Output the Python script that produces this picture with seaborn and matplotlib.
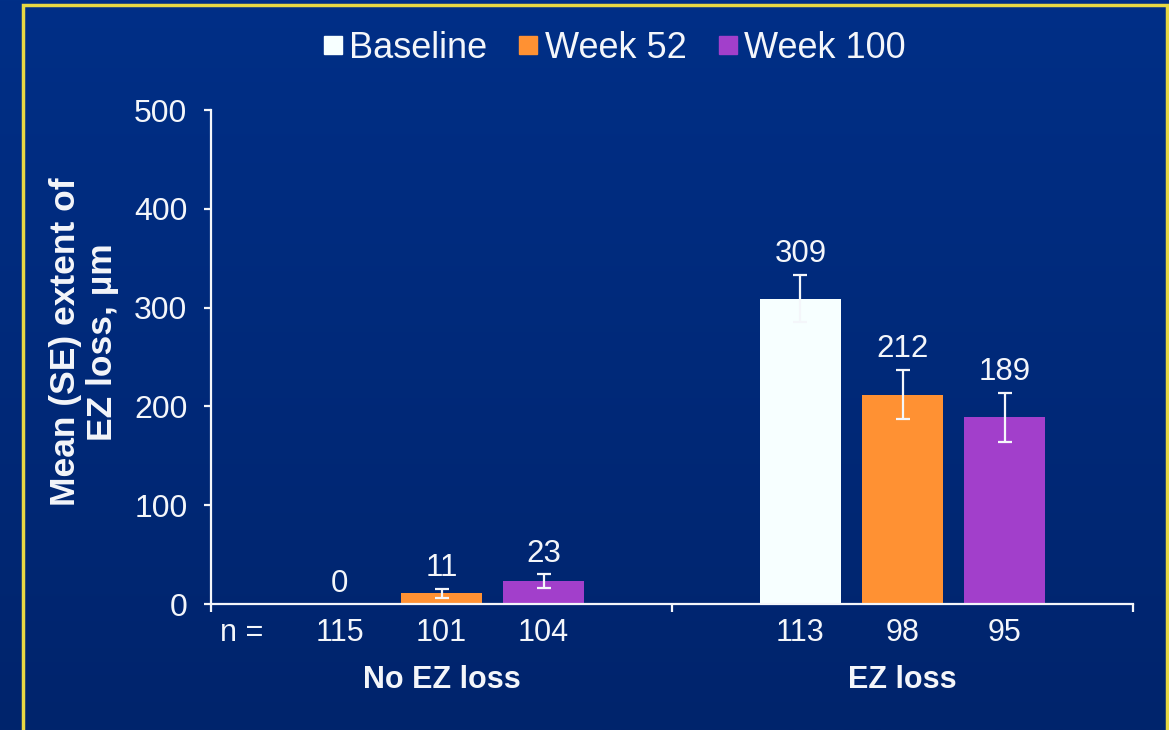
import numpy as np
import pandas as pd
import matplotlib
matplotlib.use("Agg")
import matplotlib.pyplot as plt
from matplotlib.colors import LinearSegmentedColormap
from matplotlib.lines import Line2D
from matplotlib.patches import Rectangle
import seaborn as sns

# data
groups = ["No EZ loss", "EZ loss"]
visits = ["Baseline", "Week 52", "Week 100"]
means = {"Baseline": [0, 309], "Week 52": [11, 212], "Week 100": [23, 189]}
ses = {"Baseline": [0, 24], "Week 52": [4.5, 25], "Week 100": [7, 25]}
ns = {"Baseline": [115, 113], "Week 52": [101, 98], "Week 100": [104, 95]}
colors = {"Baseline": "#F7FFFF", "Week 52": "#FF9133", "Week 100": "#A23FCB"}

rows = []
for v in visits:
    for i, g in enumerate(groups):
        rows.append({"group": g, "visit": v, "mean": means[v][i], "se": ses[v][i], "n": ns[v][i]})
df = pd.DataFrame(rows)

sns.set_theme(style="ticks")
plt.rcParams["font.family"] = ["Liberation Sans", "DejaVu Sans"]
WHITE = "#F4F6FA"

fig = plt.figure(figsize=(11.69, 7.30), dpi=100)

# background gradient
bg = fig.add_axes([0, 0, 1, 1], zorder=-10)
cmap = LinearSegmentedColormap.from_list("bg", ["#002F87", "#01246C"])
bg.imshow(np.linspace(0, 1, 256).reshape(-1, 1), aspect="auto", cmap=cmap, extent=[0, 1, 0, 1])
bg.set_axis_off()
fig.add_artist(Rectangle((23 / 1169, -0.05), (1167 - 23) / 1169, 1.05 - 5 / 730,
                         transform=fig.transFigure, fill=False, ec="#E8D843", lw=2.5))

ax = fig.add_axes([211 / 1169, 1 - 604 / 730, 922 / 1169, 494 / 730])
ax.set_facecolor("none")
sns.barplot(data=df, x="group", y="mean", hue="visit", order=groups, hue_order=visits,
            palette=colors, width=0.664, gap=0.2, errorbar=None, saturation=1,
            edgecolor="none", legend=False, ax=ax)

ax.set_xlim(-0.5, 1.5)
ax.set_ylim(0, 500)
ax.set_yticks([0, 100, 200, 300, 400, 500])

for v, cont in zip(visits, ax.containers):
    sub = df[df.visit == v].set_index("group").loc[groups]
    for bar, (g, r) in zip(cont, sub.iterrows()):
        x = bar.get_x() + bar.get_width() / 2
        if r["se"] > 0:
            ax.errorbar(x, r["mean"], yerr=r["se"], fmt="none", ecolor=WHITE,
                        elinewidth=1.6, capsize=5, capthick=1.6, zorder=5)
        ax.annotate(f"{r['mean']:g}", (x, r["mean"] + r["se"]), xytext=(0, 9),
                    textcoords="offset points", ha="center", va="baseline",
                    color=WHITE, fontsize=22.5)
        ax.annotate(f"{r['n']}", (x, 0), xycoords=("data", "axes fraction"),
                    xytext=(0, -21), textcoords="offset points", ha="center",
                    va="center", color=WHITE, fontsize=22, annotation_clip=False)

ax.annotate("n =", (0.033, 0), xycoords="axes fraction", xytext=(0, -21),
            textcoords="offset points", ha="center", va="center", color=WHITE, fontsize=22)
for i, g in enumerate(groups):
    ax.annotate(g, (i, 0), xycoords=("data", "axes fraction"), xytext=(0, -55),
                textcoords="offset points", ha="center", va="center", color=WHITE,
                fontsize=22, fontweight="bold", annotation_clip=False)

# axes styling
sns.despine(ax=ax)
for s in ["left", "bottom"]:
    ax.spines[s].set_color(WHITE)
    ax.spines[s].set_linewidth(1.6)
ax.set_xticks([0, 1])
ax.set_xticklabels([])
ax.tick_params(axis="x", which="major", length=0)
ax.set_xticks([-0.5, 0.5, 1.5], minor=True)
ax.tick_params(axis="x", which="minor", length=6, width=1.6, color=WHITE, direction="out")
ax.tick_params(axis="y", length=5, width=1.6, color=WHITE, labelcolor=WHITE,
               labelsize=23, pad=12)
ax.set_xlabel("")
ax.set_ylabel("Mean (SE) extent of\nEZ loss, µm", color=WHITE, fontsize=25.5,
              fontweight="bold", linespacing=1.15)
ax.yaxis.set_label_coords(-0.1, 0.53)

handles = [Line2D([], [], marker="s", ls="none", markersize=13, color=colors[v]) for v in visits]
fig.legend(handles, visits, loc="center", bbox_to_anchor=(612 / 1169, 1 - 48 / 730),
           ncol=3, frameon=False, fontsize=26, labelcolor=WHITE, handletextpad=0.05,
           columnspacing=0.75, handlelength=0.8)

fig.savefig("out.png", dpi=100, facecolor=fig.get_facecolor())
